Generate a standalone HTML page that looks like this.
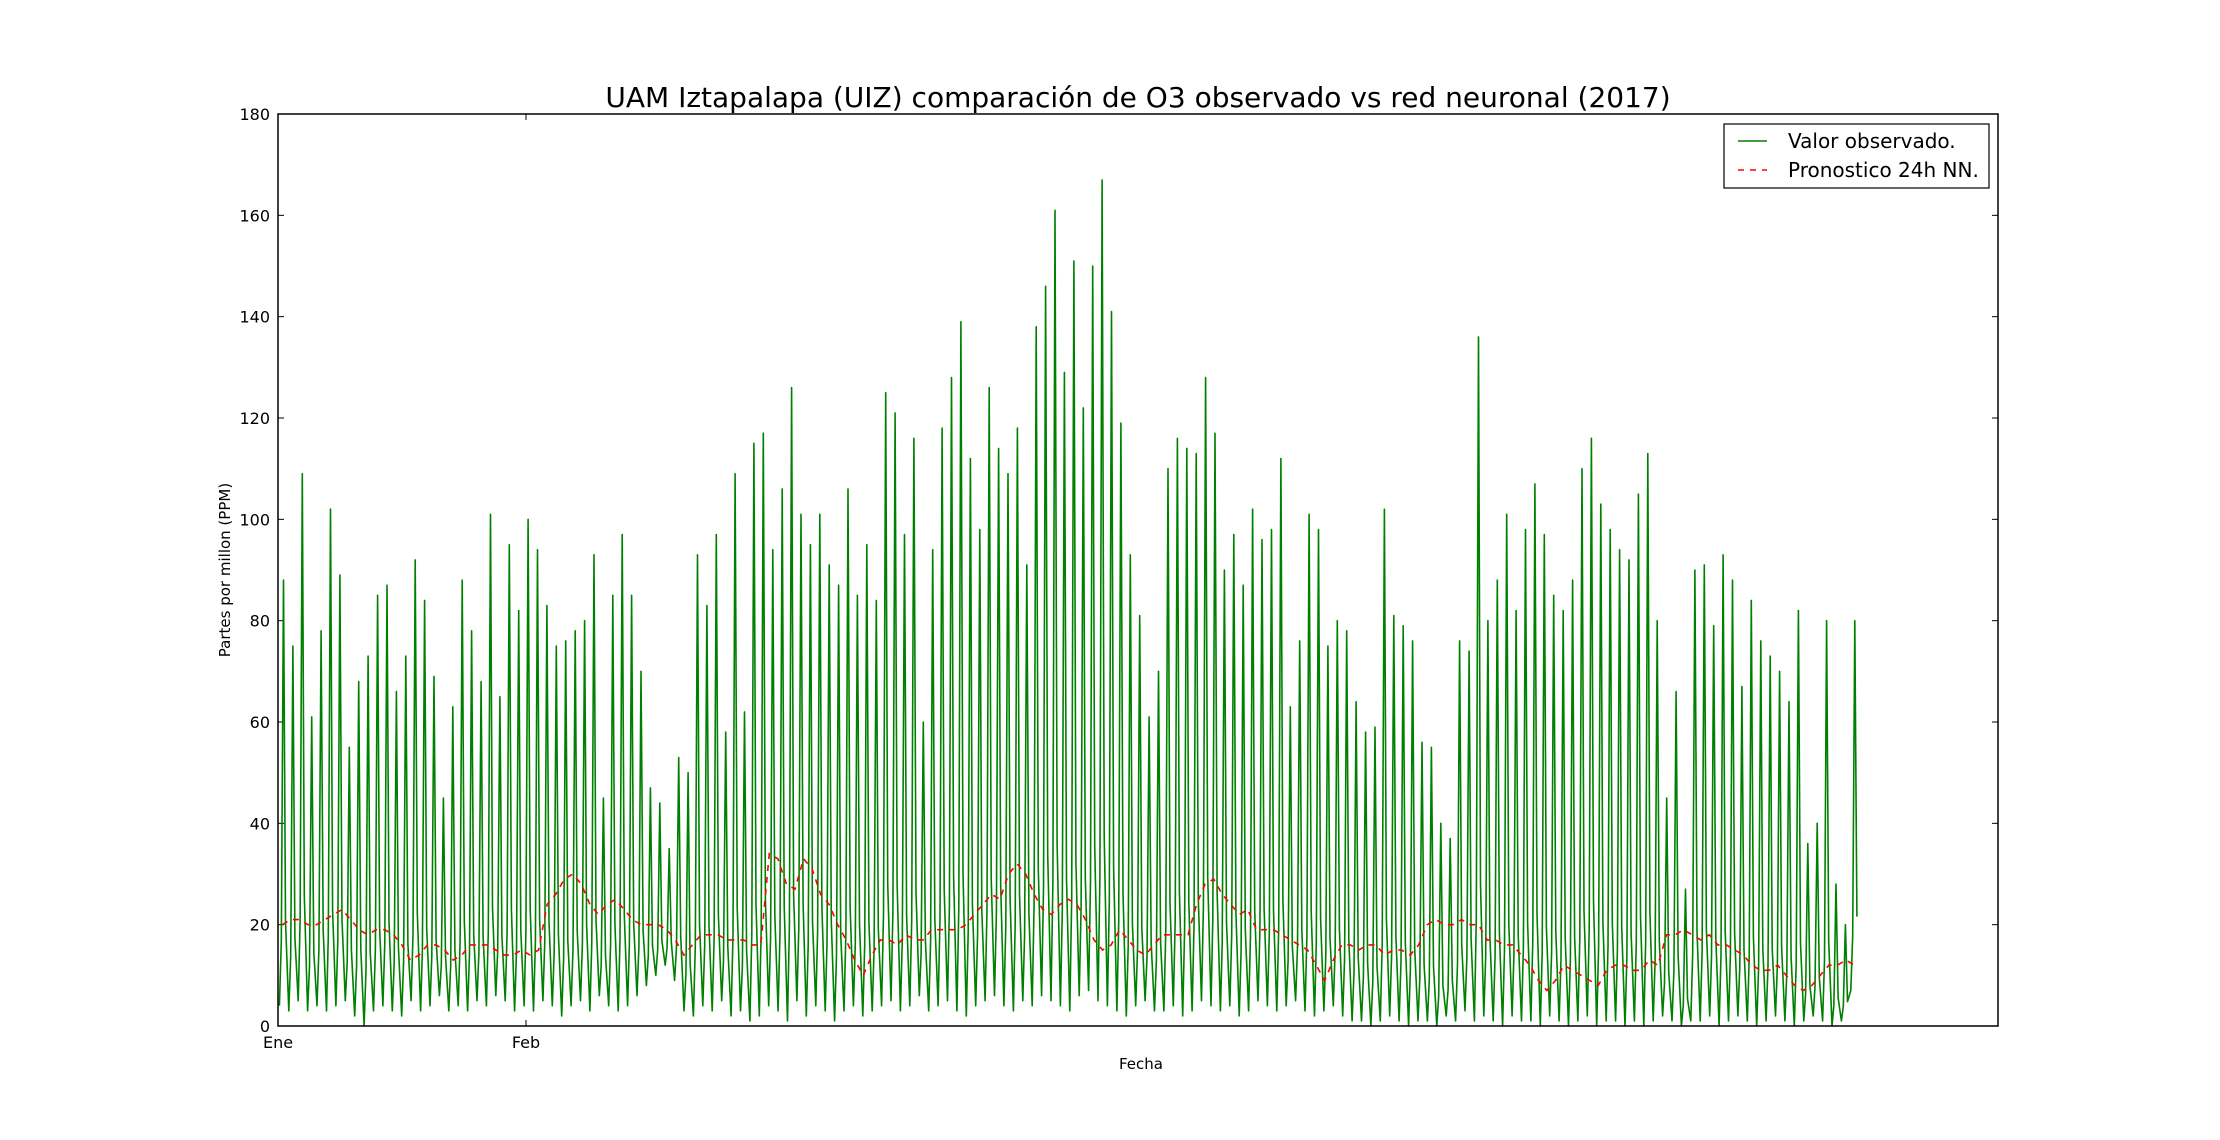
<!DOCTYPE html>
<html><head><meta charset="utf-8"><style>
body{margin:0;background:#fff;}
svg{display:block;font-family:"DejaVu Sans","Liberation Sans",sans-serif;}
</style></head><body>
<svg id="chart" width="2220" height="1140" viewBox="0 0 2220 1140" xmlns="http://www.w3.org/2000/svg">
<rect width="2220" height="1140" fill="#fff"/>
<text x="1138" y="107" font-size="28" text-anchor="middle">UAM Iztapalapa (UIZ) comparación de O3 observado vs red neuronal (2017)</text>
<text transform="translate(230,570) rotate(-90)" font-size="15" text-anchor="middle">Partes por millon (PPM)</text>
<text x="1141" y="1069" font-size="15" text-anchor="middle">Fecha</text>
<g id="yticks"></g><g id="xticks"></g>
<g id="series"></g>
<rect x="278" y="114" width="1720" height="912" fill="none" stroke="#000" stroke-width="1.5"/>
<g>
<rect x="1724" y="124" width="265" height="64" fill="#fff" stroke="#000" stroke-width="1.2"/>
<line x1="1738" y1="141" x2="1767" y2="141" stroke="#008000" stroke-width="1.5"/>
<text x="1788" y="148" font-size="20">Valor observado.</text>
<line x1="1738" y1="170" x2="1767" y2="170" stroke="#ff0000" stroke-width="1.5" stroke-dasharray="6,6"/>
<text x="1788" y="177" font-size="20">Pronostico 24h NN.</text>
</g>
</svg>
<script>
const peaks=[88,75,109,61,78,102,89,55,68,73,85,87,66,73,92,84,69,45,63,88,78,68,101,65,95,82,100,94,83,75,76,
78,80,93,45,85,97,85,70,47,44,35,53,50,93,83,97,58,109,62,115,117,94,106,126,101,95,101,91,
87,106,85,95,84,125,121,97,116,60,94,118,128,139,112,98,126,114,109,118,91,138,146,161,129,151,122,150,167,141,119,
93,81,61,70,110,116,114,113,128,117,90,97,87,102,96,98,112,63,76,101,98,75,80,78,64,58,59,102,81,79,
76,56,55,40,37,76,74,136,80,88,101,82,98,107,97,85,82,88,110,116,103,98,94,92,105,113,80,45,66,27,90,
91,79,93,88,67,84,76,73,70,64,82,36,40,80,28,20,80];
const mins=[4,3,5,3,4,3,4,5,2,0,3,4,3,2,5,3,4,6,3,4,3,5,4,6,5,3,4,3,5,4,2,
4,5,3,6,4,3,4,6,8,10,12,9,3,2,4,3,5,2,3,1,2,4,3,1,5,2,4,3,
1,3,4,2,3,4,5,3,4,6,3,4,5,3,2,4,5,6,4,3,5,4,6,5,4,3,6,7,5,4,3,
2,4,5,3,3,4,2,3,5,4,3,4,2,3,5,4,3,4,5,3,2,3,4,2,1,1,0,1,2,1,
0,1,1,0,2,1,3,1,2,1,0,2,1,1,0,2,1,0,1,2,0,1,1,0,1,0,1,2,1,0,1,
1,2,0,1,2,1,0,1,2,1,0,1,2,1,0,1,7];
const forecast=[20,21,21,20,20,21,22,23,21,19,18,19,19,18,16,13,14,16,16,15,13,14,16,16,16,15,14,14,15,14,15,
24,26,29,30,28,24,22,24,25,23,21,20,20,20,19,17,14,16,18,18,18,17,17,17,16,16,34,33,
28,27,33,31,26,24,20,17,13,10,14,17,17,16,18,17,17,19,19,19,19,20,22,24,26,25,30,32,30,26,23,
22,24,25,24,21,17,15,16,19,17,15,14,16,18,18,18,18,24,28,29,26,24,22,23,19,19,19,18,17,16,
15,12,9,13,16,16,15,16,16,14,15,15,14,16,20,21,20,20,21,20,20,17,17,16,16,14,12,9,7,9,12,
11,10,9,8,11,12,12,11,11,13,12,18,18,19,18,17,18,16,16,15,14,12,11,11,12,10,8,7,8,10,12,12,13,12];
const yTicks=[0,20,40,60,80,100,120,140,160,180];
const xTickLabels=["Ene","Feb"];
const xTickDays=[0,31];
const X0=278,X1=1998,Y0=1026,Y1=114,DAYS=215,END_DAY=197.6;
const sx=d=>X0+(X1-X0)*d/DAYS;
const sy=v=>Y0-(Y0-Y1)*v/180;
const NS="http://www.w3.org/2000/svg";
function mk(tag,attrs){const e=document.createElementNS(NS,tag);for(const k in attrs)e.setAttribute(k,attrs[k]);return e;}
const yt=document.getElementById('yticks');
yTicks.forEach(v=>{
 const y=sy(v);
 const t=mk('text',{x:X0-8,y:y+6,'font-size':16,'text-anchor':'end'});
 
 
 t.textContent=v;yt.appendChild(t);
 yt.appendChild(mk('line',{x1:X0,x2:X0+6,y1:y,y2:y,stroke:'#000'}));
 yt.appendChild(mk('line',{x1:X1-6,x2:X1,y1:y,y2:y,stroke:'#000'}));
});
const xt=document.getElementById('xticks');
xTickLabels.forEach((l,i)=>{
 const x=sx(xTickDays[i]);
 const t=mk('text',{x:x,y:Y0+22,'font-size':16,'text-anchor':'middle'});
 
 
 t.textContent=l;xt.appendChild(t);
 xt.appendChild(mk('line',{x1:x,x2:x,y1:Y0,y2:Y0-6,stroke:'#000'}));
 xt.appendChild(mk('line',{x1:x,x2:x,y1:Y1,y2:Y1+6,stroke:'#000'}));
});
const g=document.getElementById('series');
const pStep=END_DAY/peaks.length;
let d='';
peaks.forEach((p,i)=>{
 const m=mins[i];
 const b=i*pStep;
 d+=(i?'L':'M')+sx(b+0.15*pStep).toFixed(1)+','+sy(m).toFixed(1)+'L'+sx(b+0.35*pStep).toFixed(1)+','+sy(m+(p-m)*0.15).toFixed(1)+'L'+sx(b+0.58*pStep).toFixed(1)+','+sy(p).toFixed(1)+'L'+sx(b+0.8*pStep).toFixed(1)+','+sy(m+(p-m)*0.2).toFixed(1);
});
const obs=mk('path',{d:d,fill:'none',stroke:'#008000','stroke-width':1.6,'stroke-linejoin':'round'});


g.appendChild(obs);
const fStep=END_DAY/forecast.length;
let d2='';
forecast.forEach((v,i)=>{d2+=(i?'L':'M')+sx((i+0.5)*fStep).toFixed(1)+','+sy(v).toFixed(1);});
const fc=mk('path',{d:d2,fill:'none',stroke:'#ff0000','stroke-width':1.6,'stroke-dasharray':'6,6'});


g.appendChild(fc);
</script>
</body></html>
